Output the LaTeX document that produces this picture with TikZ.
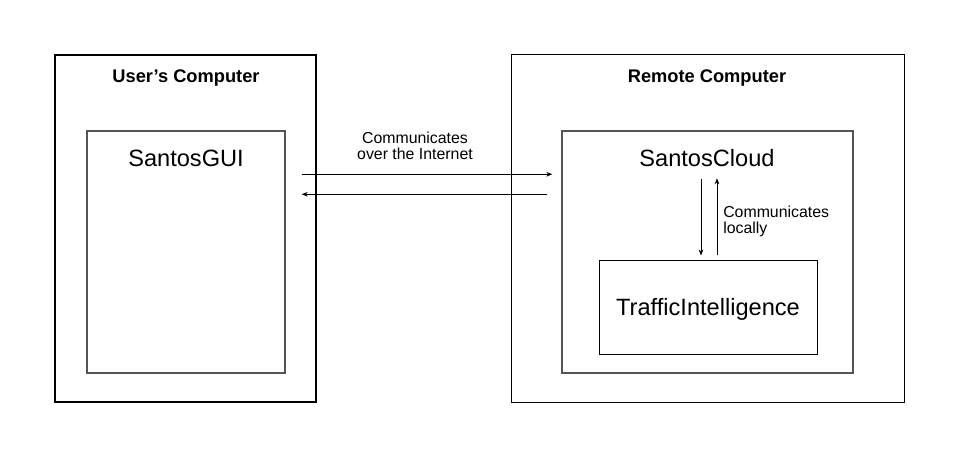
\documentclass[tikz,border=0pt]{standalone}
\usepackage{fontspec}
\setmainfont{Liberation Sans}
\usetikzlibrary{arrows.meta,positioning}

\definecolor{boxgray}{HTML}{555555}
\def\bigfont{\fontsize{17.7}{21}\selectfont}
\def\headfont{\fontsize{13.7}{16}\selectfont\bfseries}
\def\notefont{\fontsize{11.9}{15.5}\selectfont}

\begin{document}
\begin{tikzpicture}[x=0.75pt,y=-0.75pt,
	box/.style={draw, rectangle, inner sep=0pt},
	outerbox/.style={box, black},
	innerbox/.style={box, boxgray, line width=1.1pt},
	msg/.style={-{Stealth[length=4.5pt,width=3.5pt]}, line width=0.6pt}]
	
	\useasboundingbox (0,0) rectangle (959,459);
	
	\node[outerbox, line width=1.5pt, minimum width=261*0.75pt, minimum height=347*0.75pt] (user) at (185.5,228.5) {};
	\node[innerbox, minimum width=198*0.75pt, minimum height=242*0.75pt] (gui) at (186,252) {};
	\node[outerbox, line width=0.75pt, minimum width=393*0.75pt, minimum height=347*0.75pt] (remote) at (707.5,228.5) {};
	\node[innerbox, minimum width=291*0.75pt, minimum height=242*0.75pt] (cloud) at (707.5,252) {};
	\node[outerbox, line width=0.75pt, minimum width=218*0.75pt, minimum height=93*0.75pt] (ti) at (708,307.5) {};
	
	\node (usertitle) at (186,78) {\headfont User’s Computer};
	\node (remotetitle) at (707,78) {\headfont Remote Computer};
	\node (guiname) at (186,158) {\bigfont SantosGUI};
	\node (cloudname) at (707,158) {\bigfont SantosCloud};
	\node (tiname) at (708,309) {\bigfont TrafficIntelligence};
	
	\draw[msg] ([shift={(16,44)}]gui.north east) -- ([shift={(-9,44)}]cloud.north west);
	\draw[msg] ([shift={(-14,64)}]cloud.north west) -- ([shift={(16,64)}]gui.north east);
	\node[align=center] (netnote) at (415,146) {\notefont Communicates\\\notefont over the Internet};
	
	\draw[msg] ([shift={(-6.5,49)}]cloud.north) -- ([shift={(-7,-5)}]ti.north);
	\draw[msg] ([shift={(9,-5)}]ti.north) -- ([shift={(9.5,48)}]cloud.north);
	\node[align=left, anchor=west, inner sep=0pt] (localnote) at (723,221) {\notefont Communicates\\\notefont locally};
	
\end{tikzpicture}
\end{document}
